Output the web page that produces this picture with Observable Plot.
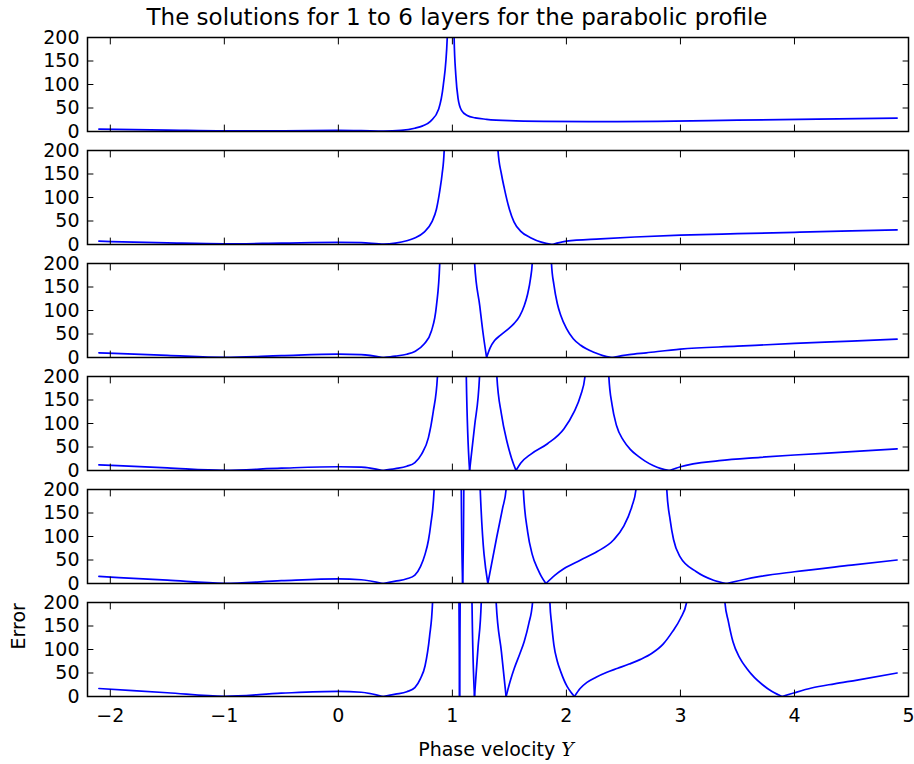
<!DOCTYPE html>
<html>
<head>
<meta charset="utf-8">
<script src="https://cdn.jsdelivr.net/npm/d3@7"></script>
<script src="https://cdn.jsdelivr.net/npm/@observablehq/plot@0.6"></script>
<style>
  html, body { margin: 0; padding: 0; background: #fff; }
  #wrap { position: relative; width: 914px; height: 764px; }
  #title { position: absolute; left: 0; width: 914px; top: 6px; text-align: center;
           font-family: "DejaVu Sans", sans-serif; font-size: 23px; line-height: 23px; color: #000; white-space: nowrap; }
</style>
</head>
<body>
<div id="wrap">
  <div id="chart"></div>
  <div id="title">The solutions for 1 to 6 layers for the parabolic profile</div>
</div>
<script>
// ---- data; 2000 = curve diverges above the frame ----
const layerNames = ["1", "2", "3", "4", "5", "6"];
const xTicks = [-2, -1, 0, 1, 2, 3, 4, 5];
const yTicks = [0, 50, 100, 150, 200];

const layer1 = [[-2.1,5],[-1.5,3.1],[-1,1.5],[-0.5,1.5],[0,2.5],[0.2,2],[0.4,1],
  [0.55,2.5],[0.67,7],[0.74,12],[0.81,22],[0.88,48],[0.92,98],[0.955,200],[0.965,300],[0.975,600],[0.98,2000],
  [1.0,2000],[1.005,600],[1.01,300],[1.015,200],[1.03,120],[1.05,70],[1.08,45],[1.13,34],[1.2,29],[1.3,26],[1.5,23],[1.8,21.5],
  [2.2,21],[2.8,21.5],[3.5,24],[4.2,26.5],[4.9,28.5]];

const layer2 = [[-2.1,7],[-1.5,3.5],[-1,1.5],[-0.5,3],[0,4.5],[0.2,4],[0.4,1],
  [0.5,3],[0.6,8],[0.67,14],[0.75,26],[0.82,48],[0.86,75],[0.89,115],[0.91,150],[0.928,200],[0.935,280],[0.945,500],[0.95,2000],
  [1.385,2000],[1.39,500],[1.395,300],[1.40,200],[1.43,150],[1.456,119],[1.50,75],[1.54,48],[1.60,28],[1.69,14],[1.78,5],[1.878,0],
  [2.0,7],[2.3,12],[2.6,16],[3.0,20],[3.5,23],[4.0,26],[4.5,29],[4.9,31]];

const layer3 = [[-2.1,10],[-1.5,4.6],[-1,0.5],[-0.5,4],[0,7],[0.2,6],[0.39,0],
  [0.5,3],[0.6,7],[0.671,13],[0.75,28],[0.817,57],[0.86,110],[0.889,200],[0.895,300],[0.905,600],[0.91,2000],
  [1.18,2000],[1.19,320],[1.195,200],[1.24,110],[1.27,50],[1.30,0],
  [1.33,20],[1.37,36],[1.42,47],[1.486,60],[1.54,72],[1.59,88],[1.63,110],[1.66,135],[1.685,168],[1.70,200],[1.71,270],[1.72,450],[1.725,2000],
  [1.86,2000],[1.865,400],[1.869,200],[1.89,155],[1.92,115],[1.95,90],[2.0,62],[2.06,40],[2.125,26],[2.24,11],[2.32,4],[2.40,0],
  [2.55,6],[2.7,10],[3.0,18],[3.5,24],[4.0,30],[4.5,35],[4.9,39]];

const layer4 = [[-2.1,12],[-1.5,5.6],[-1,0.5],[-0.5,5],[0,8],[0.2,7],[0.39,0],
  [0.5,4],[0.6,9],[0.671,17],[0.73,35],[0.79,70],[0.832,125],[0.869,200],[0.875,300],[0.885,600],[0.89,2000],
  [1.11,2000],[1.118,400],[1.122,200],[1.151,0],[1.195,95],[1.238,200],[1.245,400],[1.25,2000],
  [1.38,2000],[1.386,400],[1.39,200],[1.43,120],[1.48,60],[1.52,25],[1.558,0],
  [1.60,16],[1.689,35],[1.834,57],[1.979,89],[2.066,124],[2.125,160],[2.163,200],[2.172,240],[2.18,300],[2.19,2000],
  [2.36,2000],[2.368,400],[2.372,200],[2.40,140],[2.44,95],[2.50,64],[2.56,45],[2.62,32],[2.69,20],[2.76,10.6],[2.83,4],[2.905,0],
  [3.0,8],[3.34,21],[3.7,28],[4.0,33],[4.5,40],[4.9,46]];

const layer5 = [[-2.1,15],[-1.5,7],[-1,0.5],[-0.5,6],[0,10],[0.2,8],[0.39,0],
  [0.5,5],[0.6,10],[0.671,18],[0.72,36],[0.76,62],[0.79,92],[0.81,125],[0.84,200],[0.846,300],[0.855,600],[0.86,2000],
  [1.07,2000],[1.076,400],[1.078,200],[1.09,0],[1.10,200],[1.102,400],[1.11,2000],
  [1.235,2000],[1.241,400],[1.244,200],[1.311,0],[1.39,100],[1.44,160],[1.471,200],[1.478,400],[1.485,2000],
  [1.61,2000],[1.618,400],[1.622,200],[1.66,110],[1.70,62],[1.75,30],[1.78,15],[1.82,0],
  [1.9,18],[1.98,32],[2.125,50],[2.27,68],[2.415,93],[2.50,121],[2.574,164],[2.61,200],[2.62,250],[2.63,400],[2.635,2000],
  [2.865,2000],[2.875,400],[2.88,200],[2.91,135],[2.94,93],[2.996,57],[3.14,25],[3.29,7],[3.405,0],
  [3.55,8],[3.7,15],[4.0,25],[4.5,39],[4.9,50]];

const layer6 = [[-2.1,17],[-1.5,8],[-1,0.5],[-0.5,7],[0,11],[0.2,9],[0.39,0],
  [0.5,5],[0.6,10],[0.671,19],[0.72,38],[0.76,65],[0.80,128],[0.826,200],[0.832,300],[0.84,600],[0.845,2000],
  [1.05,2000],[1.056,400],[1.058,200],[1.063,0],[1.068,200],[1.07,400],[1.076,2000],
  [1.165,2000],[1.17,400],[1.172,200],[1.194,0],[1.225,105],[1.253,200],[1.258,400],[1.265,2000],
  [1.375,2000],[1.381,400],[1.384,200],[1.43,95],[1.471,0],
  [1.51,35],[1.543,60],[1.59,90],[1.63,117],[1.67,155],[1.703,200],[1.71,250],[1.72,400],[1.725,2000],
  [1.845,2000],[1.852,400],[1.855,200],[1.87,155],[1.89,110],[1.92,75],[1.95,53],[2.007,21],[2.04,9],[2.07,0],
  [2.12,17],[2.18,30],[2.26,41],[2.35,51],[2.45,60],[2.55,69],[2.65,79],[2.75,92],[2.85,112],[2.93,138],[3.0,166],[3.054,200],[3.065,260],[3.075,400],[3.08,2000],
  [3.375,2000],[3.385,400],[3.39,200],[3.42,160],[3.46,117],[3.52,82],[3.58,60],[3.65,40],[3.72,25],[3.8,11],[3.86,3.5],[3.89,0],
  [4.0,8],[4.15,18],[4.35,27],[4.55,35],[4.9,50]];

const series = [layer1, layer2, layer3, layer4, layer5, layer6];

// split each curve into smooth pieces at its cusps (zeros) and at its poles
function pieces(points, layer) {
  const out = [];
  let seg = 0;
  points.forEach(([x, y], i) => {
    const next = points[i + 1];
    out.push({layer, seg, x, y});
    if (y === 0 && i > 0 && next) { seg++; out.push({layer, seg, x, y}); }
    else if (y >= 2000 && next && next[1] >= 2000) { seg++; }
  });
  return out;
}
const rows = series.flatMap((s, i) => pieces(s, layerNames[i]));
const lastLayer = [{layer: layerNames[layerNames.length - 1]}];

const tickLen = -6.4;
const chart = Plot.plot({
  width: 914,
  height: 764,
  marginLeft: 87,
  marginRight: 6,
  marginTop: 35,
  marginBottom: 67,
  style: {fontFamily: "DejaVu Sans, sans-serif", fontSize: "19px", color: "#000", background: "#fff", overflow: "visible"},
  x: {domain: [-2.2, 5]},
  y: {domain: [0, 200]},
  fy: {domain: layerNames, paddingInner: 0.1725, paddingOuter: 0, axis: null},
  marks: [
    Plot.line(rows, {x: "x", y: "y", fy: "layer", z: d => d.layer + "-" + d.seg, curve: "monotone-x",
                     stroke: "#0000ff", strokeWidth: 1.7, clip: true}),
    // inward ticks on all four sides of every panel
    Plot.axisX(xTicks, {anchor: "bottom", tickSize: tickLen, tickFormat: () => "", facetAnchor: null, label: null, strokeWidth: 1}),
    Plot.axisX(xTicks, {anchor: "top", tickSize: tickLen, tickFormat: () => "", facetAnchor: null, label: null, strokeWidth: 1}),
    Plot.axisY(yTicks, {anchor: "left", tickSize: tickLen, tickFormat: () => "", facetAnchor: null, label: null, strokeWidth: 1}),
    Plot.axisY(yTicks, {anchor: "right", tickSize: tickLen, tickFormat: () => "", facetAnchor: null, label: null, strokeWidth: 1}),
    // tick labels
    Plot.axisX(xTicks, {anchor: "bottom", tickSize: 0, tickPadding: 12, label: null, tickFormat: d => d < 0 ? "\u2212" + Math.abs(d) : String(d)}),
    Plot.axisY(yTicks, {anchor: "left", tickSize: 0, tickPadding: 8, label: null, facetAnchor: null}),
    Plot.frame({stroke: "#000", strokeWidth: 1.5}),
    // axis titles on the last panel
    Plot.text(lastLayer, {fy: "layer", frameAnchor: "left", text: () => "Error", rotate: -90, dx: -69, lineAnchor: "middle", fill: "#000"}),
    Plot.text(lastLayer, {fy: "layer", frameAnchor: "bottom", text: () => "Phase velocity Y", dx: -2, dy: 53, lineAnchor: "middle", fill: "#000"})
  ]
});
document.getElementById("chart").appendChild(chart);

// italic math Y in the x-axis title
chart.querySelectorAll("text").forEach(t => {
  if (t.textContent === "Phase velocity Y") {
    t.textContent = "";
    const a = document.createElementNS("http://www.w3.org/2000/svg", "tspan");
    a.textContent = "Phase velocity ";
    const b = document.createElementNS("http://www.w3.org/2000/svg", "tspan");
    b.textContent = "Y";
    b.setAttribute("font-style", "italic");
    b.setAttribute("font-family", "DejaVu Serif, serif");
    t.appendChild(a); t.appendChild(b);
  }
});
</script>
</body>
</html>
